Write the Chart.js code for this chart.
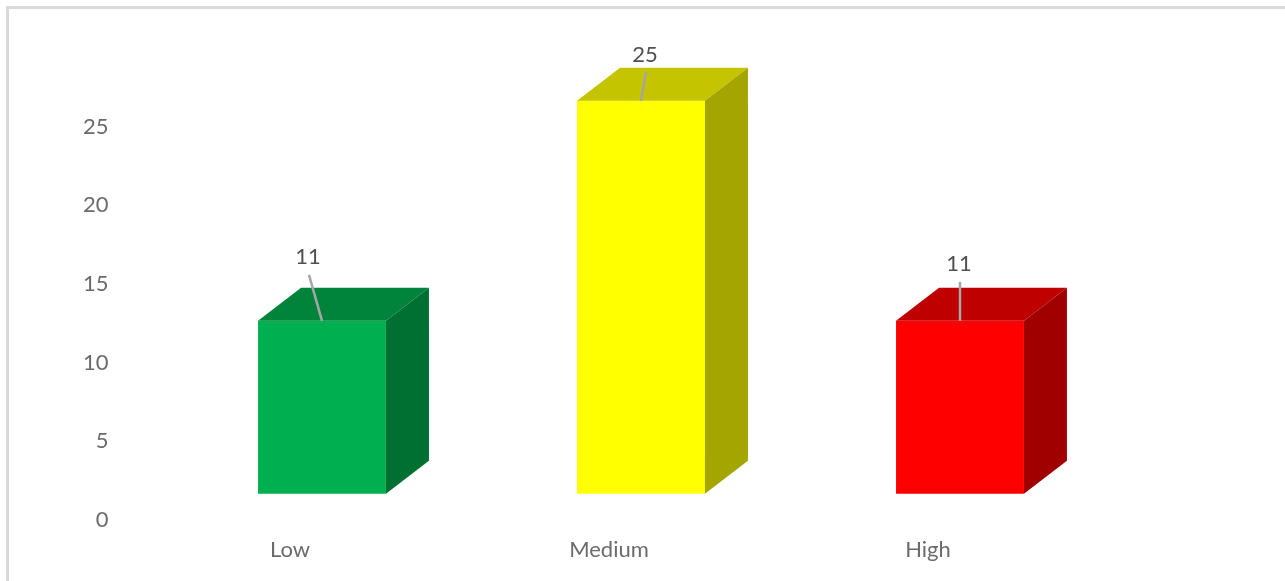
<!DOCTYPE html>
<html>
<head>
<meta charset="utf-8">
<title>Low / Medium / High</title>
<script src="https://cdn.jsdelivr.net/npm/chart.js@4"></script>
<style>
    html, body { margin: 0; padding: 0; background: #fff; overflow: hidden; }
    #contenedor { position: relative; width: 1285px; height: 581px; overflow: hidden; }
    #marco {
        position: absolute; left: 6px; top: 6px; width: 1290px; height: 590px;
        border-left: 3px solid #d9d9d9; border-top: 3px solid #d9d9d9;
    }
    #grafico { position: absolute; left: 0; top: 0; }
</style>
</head>
<body>
<div id="contenedor">
    <div id="marco"></div>
    <canvas id="grafico" width="1285" height="581"></canvas>
</div>
<script>
// Datos
const categorias = ['Low', 'Medium', 'High'];
const valores = [11, 25, 11];
const ticksY = [0, 5, 10, 15, 20, 25];

// El frente de las barras 3D queda levantado sobre el cero
const baseBarra = 1.65;

// Colores de cada cara
const coloresFrente = ['#00b050', '#ffff00', '#ff0000'];
const coloresTapa = ['#00843c', '#c4c400', '#bf0000'];
const coloresLado = ['#006f32', '#a5a500', '#a00000'];

// Profundidad de la caja en pixeles
const PROF_X = 43;
const PROF_Y = 33;

// Posicion de la etiqueta y de la linea guia, relativa al centro de la tapa
const GUIAS = [
    { dx: -13, dy: -46, tx: -14, ty: -64 },
    { dx: 5, dy: -29, tx: 4, ty: -46 },
    { dx: 0, dy: -39, tx: -1, ty: -57 }
];

function poligono(ctx, puntos, color) {
    ctx.beginPath();
    puntos.forEach((p, i) => i ? ctx.lineTo(p[0], p[1]) : ctx.moveTo(p[0], p[1]));
    ctx.closePath();
    ctx.fillStyle = color;
    ctx.fill();
}

// Dibuja las caras laterales, las guias y las etiquetas de cada barra
const caja3d = {
    id: 'caja3d',
    afterDatasetsDraw(chart) {
        const ctx = chart.ctx;
        chart.getDatasetMeta(0).data.forEach((barra, i) => {
            const izq = barra.x - barra.width / 2;
            const der = barra.x + barra.width / 2;
            const arriba = barra.y;
            const abajo = barra.base;
            ctx.save();
            poligono(ctx, [[izq, arriba], [der, arriba], [der + PROF_X, arriba - PROF_Y], [izq + PROF_X, arriba - PROF_Y]], coloresTapa[i]);
            poligono(ctx, [[der, arriba], [der + PROF_X, arriba - PROF_Y], [der + PROF_X, abajo - PROF_Y], [der, abajo]], coloresLado[i]);

            const g = GUIAS[i];
            ctx.beginPath();
            ctx.moveTo(barra.x + g.dx, arriba + g.dy);
            ctx.lineTo(barra.x, arriba);
            ctx.strokeStyle = '#a6a6a6';
            ctx.lineWidth = 2.5;
            ctx.stroke();

            ctx.fillStyle = '#505050';
            ctx.font = '22px Lato';
            ctx.textAlign = 'center';
            ctx.textBaseline = 'middle';
            ctx.fillText(String(valores[i]), barra.x + g.tx, arriba + g.ty);
            ctx.restore();
        });
    }
};

const ctx = document.getElementById('grafico').getContext('2d');
new Chart(ctx, {
    type: 'bar',
    data: {
        labels: categorias,
        datasets: [{
            data: valores.map(v => [baseBarra, baseBarra + v]),
            backgroundColor: coloresFrente,
            borderWidth: 0,
            barPercentage: 0.401,
            categoryPercentage: 1
        }]
    },
    options: {
        responsive: false,
        animation: false,
        layout: { padding: { top: 48.1, right: 165.5 } },
        plugins: {
            legend: { display: false },
            tooltip: { enabled: false }
        },
        scales: {
            x: {
                grid: { display: false, drawTicks: false },
                border: { display: false },
                afterFit: scale => { scale.height = 61.3; },
                ticks: {
                    color: '#6b6b6b',
                    font: { family: 'Lato', size: 22 },
                    padding: 17,
                    labelOffset: -32,
                    maxRotation: 0,
                    autoSkip: false
                }
            },
            y: {
                min: 0,
                max: 30,
                grid: { display: false, drawTicks: false },
                border: { display: false },
                afterFit: scale => {
                    // el padding de los ticks no debe encoger el area vertical
                    scale.width = 162.5;
                    scale.paddingTop = 0;
                    scale.paddingBottom = 0;
                },
                afterBuildTicks: scale => { scale.ticks = ticksY.map(v => ({ value: v })); },
                ticks: {
                    color: '#6b6b6b',
                    font: { family: 'Lato', size: 22 },
                    padding: 54
                }
            }
        }
    },
    plugins: [caja3d]
});
</script>
</body>
</html>
